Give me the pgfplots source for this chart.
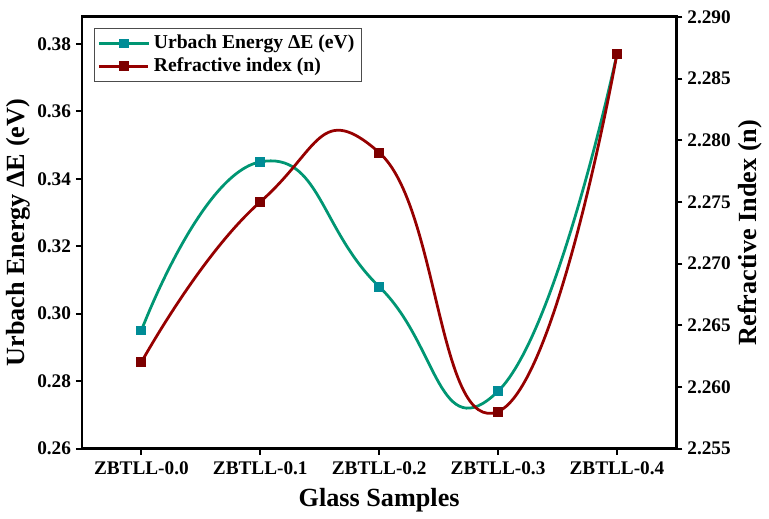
\documentclass[border=0pt]{standalone}
\usepackage{fontspec}
\setmainfont{Liberation Serif}
\usepackage{pgfplots}
\pgfplotsset{compat=1.18}
\definecolor{ugreen}{RGB}{0,150,115}
\definecolor{umark}{RGB}{0,140,150}
\definecolor{rline}{RGB}{150,0,0}
\definecolor{rmark}{RGB}{125,0,0}
\begin{document}
\begin{tikzpicture}
\pgfplotsset{
  common/.style={
    scale only axis, width=299.5pt, height=217.5pt,
    xmin=-0.5, xmax=4.5,
    tick align=outside, major tick length=3pt,
    every tick/.style={black, line width=1pt},
    axis line style={line width=1.4pt},
    tick label style={font=\fontsize{9.7}{11}\selectfont\bfseries},
    label style={font=\fontsize{13.2}{15}\selectfont\bfseries},
    /pgf/number format/assume math mode=true,
  }
}
\begin{axis}[common,
  ymin=0.26, ymax=0.388,
  ytick={0.26,0.28,0.30,0.32,0.34,0.36,0.38},
  yticklabel style={/pgf/number format/fixed,/pgf/number format/fixed zerofill,/pgf/number format/precision=2, xshift=1pt},
  xtick={0,1,2,3,4},
  xticklabels={ZBTLL-0.0,ZBTLL-0.1,ZBTLL-0.2,ZBTLL-0.3,ZBTLL-0.4},
  xtick pos=bottom, ytick pos=left,
  xlabel={Glass Samples},
  ylabel={Urbach Energy ΔE (eV)},
  ylabel style={yshift=-3.5pt},
  xlabel style={yshift=0pt},
  legend style={at={(0.02,0.975)}, anchor=north west, draw=black!70, line width=0.6pt,
    font=\fontsize{9.9}{11}\selectfont\bfseries, row sep=-1pt, inner sep=1.5pt},
  legend cell align=left,
  legend image code/.code={\draw[mark repeat=2,mark phase=2] plot coordinates {(0cm,0cm) (0.44cm,0cm) (0.88cm,0cm)};},
]
\addplot[ugreen, line width=1.4pt, smooth, tension=0.9, mark=square*, mark size=1.8pt,
  mark options={fill=umark, draw=umark, solid}]
  coordinates {(0,0.295) (1,0.345) (2,0.308) (3,0.277) (4,0.377)};
\addlegendentry{Urbach Energy ΔE (eV)}
\addlegendimage{rline, line width=1.4pt, mark=square*, mark size=1.8pt, mark options={fill=rmark, draw=rmark}}
\addlegendentry{Refractive index (n)}
\end{axis}
\begin{axis}[common,
  axis x line=none, axis y line*=right,
  ymin=2.255, ymax=2.290,
  ytick={2.255,2.260,2.265,2.270,2.275,2.280,2.285,2.290},
  yticklabel style={/pgf/number format/fixed,/pgf/number format/fixed zerofill,/pgf/number format/precision=3, xshift=-1pt},
  ylabel={Refractive Index (n)},
  ylabel style={yshift=3pt},
]
\addplot[rline, line width=1.4pt, smooth, tension=0.9, mark=square*, mark size=1.8pt,
  mark options={fill=rmark, draw=rmark, solid}]
  coordinates {(0,2.262) (1,2.275) (2,2.279) (3,2.258) (4,2.287)};
\end{axis}
\path ([yshift=8.5pt]current axis.north);
\end{tikzpicture}
\end{document}
